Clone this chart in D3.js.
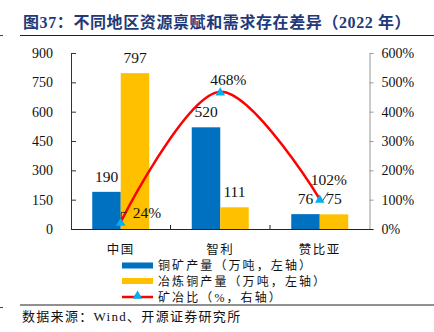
<!DOCTYPE html>
<html><head><meta charset="utf-8">
<script src="https://cdn.jsdelivr.net/npm/d3@7/dist/d3.min.js"></script>
<style>
html,body{margin:0;padding:0;background:#fff;}
svg{display:block;}
</style></head>
<body>
<script>
const categories = ["中国", "智利", "赞比亚"];
const mineOutput = [190, 520, 76];      // 铜矿产量（万吨）
const smeltOutput = [797, 111, 75];     // 冶炼铜产量（万吨）
const ratio = [24, 468, 102];           // 矿冶比（%）
const leftTicks = [0, 150, 300, 450, 600, 750, 900];
const rightTicks = [0, 100, 200, 300, 400, 500, 600];
const seriesNames = ["铜矿产量（万吨，左轴）", "冶炼铜产量（万吨，左轴）", "矿冶比（%，右轴）"];
const titleText = "图37：不同地区资源禀赋和需求存在差异（2022 年）";
const sourceText = "数据来源：Wind、开源证券研究所";

const W = 434, H = 332;
const serif = "'Liberation Serif','Times New Roman',serif";
const cjk = "'Liberation Serif','Noto Sans CJK SC',sans-serif";
const BLUE = "#0070C0", YELLOW = "#FFC000", RED = "#FF0000", CYAN = "#00B0F0";

const svg = d3.select("body").append("svg").attr("width", W).attr("height", H);

// title
svg.append("text").attr("x", 23).attr("y", 28)
  .attr("font-family", cjk).attr("font-weight", "bold").attr("font-size", 16)
  .attr("letter-spacing", 0.6).attr("fill", "#1F3A78").text(titleText);
svg.append("line").attr("x1", 20).attr("x2", W).attr("y1", 35.5).attr("y2", 35.5)
  .attr("stroke", "#222").attr("stroke-width", 1.2);
svg.append("line").attr("x1", 0).attr("x2", 3).attr("y1", 35.5).attr("y2", 35.5)
  .attr("stroke", "#444").attr("stroke-width", 1);

const plot = {left: 71, right: 369.5, top: 53, bottom: 229};
const x = d3.scaleBand().domain(categories).range([plot.left, plot.right]).padding(0);
const yL = d3.scaleLinear().domain([0, 900]).range([plot.bottom, plot.top]);
const yR = d3.scaleLinear().domain([0, 600]).range([plot.bottom, plot.top]);
const barW = 28.5;
const cx = c => x(c) + x.bandwidth() / 2;

// left axis
const axL = svg.append("g").attr("transform", `translate(${plot.left},0)`)
  .call(d3.axisLeft(yL).tickValues(leftTicks).tickSize(-5).tickPadding(18).tickSizeOuter(0));
axL.select(".domain").attr("stroke", "#333");
axL.selectAll(".tick line").attr("stroke", "#333");
axL.selectAll("text").attr("font-family", serif).attr("font-size", 14).attr("fill", "#111");

// right axis
const axR = svg.append("g").attr("transform", `translate(${plot.right},0)`)
  .call(d3.axisRight(yR).tickValues(rightTicks).tickFormat(d => d + "%").tickSize(4).tickPadding(8).tickSizeOuter(0));
axR.select(".domain").attr("stroke", "#999");
axR.selectAll(".tick line").attr("stroke", "#999");
axR.selectAll("text").attr("font-family", serif).attr("font-size", 14).attr("fill", "#111");

// bars
svg.append("g").selectAll("rect").data(categories).join("rect")
  .attr("x", c => cx(c) - barW).attr("width", barW)
  .attr("y", (c, i) => yL(mineOutput[i])).attr("height", (c, i) => yL(0) - yL(mineOutput[i]))
  .attr("fill", BLUE);
svg.append("g").selectAll("rect").data(categories).join("rect")
  .attr("x", c => cx(c)).attr("width", barW)
  .attr("y", (c, i) => yL(smeltOutput[i])).attr("height", (c, i) => yL(0) - yL(smeltOutput[i]))
  .attr("fill", YELLOW);

// x axis
const axX = svg.append("g").attr("transform", `translate(0,${plot.bottom})`)
  .call(d3.axisBottom(x).tickSize(0).tickPadding(16));
axX.select(".domain").attr("stroke", "#222").attr("d", `M${plot.left},0.5H${plot.right + 4}`);
axX.selectAll("text").attr("font-family", cjk).attr("font-size", 12.5)
  .attr("letter-spacing", 1.5).attr("fill", "#111");
svg.append("g").selectAll("line").data(categories.slice(1)).join("line")
  .attr("x1", c => x(c)).attr("x2", c => x(c))
  .attr("y1", plot.bottom).attr("y2", plot.bottom - 4).attr("stroke", "#222");

// bar labels
const lab = svg.append("g").attr("font-family", serif).attr("font-size", 15.5)
  .attr("fill", "#111").attr("text-anchor", "middle");
categories.forEach((c, i) => {
  lab.append("text").attr("x", cx(c) - barW / 2).attr("y", yL(mineOutput[i]) - 10).text(mineOutput[i]);
  lab.append("text").attr("x", cx(c) + barW / 2).attr("y", yL(smeltOutput[i]) - 10).text(smeltOutput[i]);
});

// line
const pts = categories.map((c, i) => [cx(c), yR(ratio[i])]);
svg.append("path").datum(pts)
  .attr("d", d3.line().curve(d3.curveCatmullRom.alpha(0.5)))
  .attr("fill", "none").attr("stroke", RED).attr("stroke-width", 2.5);
const tri = d3.symbol().type(d3.symbolTriangle).size(40);
svg.append("g").selectAll("path").data(pts).join("path")
  .attr("transform", p => `translate(${p[0]},${p[1] + 1})`)
  .attr("d", tri).attr("fill", CYAN);

// ratio labels
const rl = svg.append("g").attr("font-family", serif).attr("font-size", 15.5).attr("fill", "#111");
// 中国
rl.append("text").attr("x", pts[0][0] + 12).attr("y", pts[0][1] - 4).text(ratio[0] + "%");
rl.append("path").attr("d", `M${pts[0][0] + 6},${pts[0][1] - 9.5}H${pts[0][0] + 0.5}V${pts[0][1] - 3}`)
  .attr("fill", "none").attr("stroke", "#222").attr("stroke-width", 0.8);
// 智利
rl.append("text").attr("x", pts[1][0] + 8).attr("y", pts[1][1] - 7).attr("text-anchor", "middle").text(ratio[1] + "%");
// 赞比亚
rl.append("text").attr("x", pts[2][0] + 9).attr("y", pts[2][1] - 14).attr("text-anchor", "middle").text(ratio[2] + "%");
rl.append("line").attr("x1", pts[2][0] + 3).attr("y1", pts[2][1] + 1.5)
  .attr("x2", pts[2][0] + 8.5).attr("y2", pts[2][1] - 7).attr("stroke", "#222").attr("stroke-width", 0.8);

// legend
const lg = svg.append("g");
const rows = [265.5, 281, 297];
lg.append("rect").attr("x", 122).attr("y", rows[0] - 3).attr("width", 31).attr("height", 6).attr("fill", BLUE);
lg.append("rect").attr("x", 122).attr("y", rows[1] - 3).attr("width", 31).attr("height", 6).attr("fill", YELLOW);
lg.append("line").attr("x1", 122).attr("x2", 153).attr("y1", rows[2]).attr("y2", rows[2]).attr("stroke", RED).attr("stroke-width", 2.5);
lg.append("path").attr("transform", `translate(137.5,${rows[2] - 1})`).attr("d", tri).attr("fill", CYAN);
lg.selectAll("text").data(seriesNames).join("text")
  .attr("x", 158).attr("y", (d, i) => rows[i] + 4.5)
  .attr("font-family", cjk).attr("font-size", 12).attr("letter-spacing", 2.1).attr("fill", "#111")
  .text(d => d);

// bottom rule & source
svg.append("line").attr("x1", 20).attr("x2", W).attr("y1", 305).attr("y2", 305)
  .attr("stroke", "#222").attr("stroke-width", 1.2);
svg.append("line").attr("x1", 0).attr("x2", 3).attr("y1", 307.5).attr("y2", 307.5)
  .attr("stroke", "#444").attr("stroke-width", 1);
svg.append("text").attr("x", 22).attr("y", 321).attr("font-family", cjk).attr("font-size", 13)
  .attr("letter-spacing", 1.3).attr("fill", "#111").text(sourceText);
</script>
</body></html>
